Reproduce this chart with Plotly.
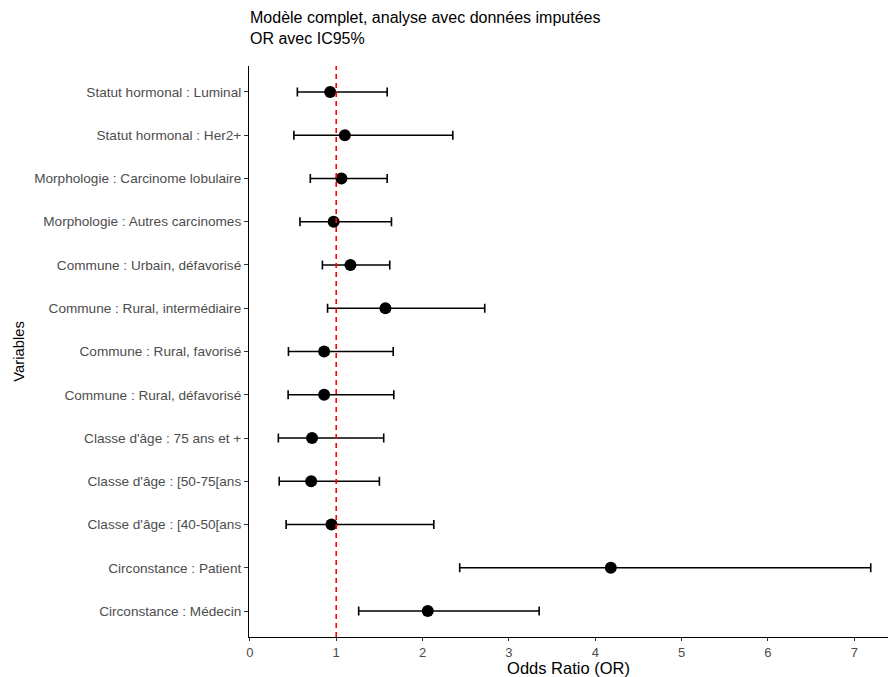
import plotly.graph_objects as go

variables = [
    "Statut hormonal : Luminal",
    "Statut hormonal : Her2+",
    "Morphologie : Carcinome lobulaire",
    "Morphologie : Autres carcinomes",
    "Commune : Urbain, défavorisé",
    "Commune : Rural, intermédiaire",
    "Commune : Rural, favorisé",
    "Commune : Rural, défavorisé",
    "Classe d'âge : 75 ans et +",
    "Classe d'âge : [50-75[ans",
    "Classe d'âge : [40-50[ans",
    "Circonstance : Patient",
    "Circonstance : Médecin",
]
odds_ratio = [0.93, 1.10, 1.06, 0.97, 1.165, 1.57, 0.86, 0.86, 0.72, 0.71, 0.945, 4.18, 2.06]
ci_lower = [0.55, 0.51, 0.70, 0.58, 0.84, 0.90, 0.447, 0.443, 0.33, 0.34, 0.42, 2.43, 1.26]
ci_upper = [1.59, 2.35, 1.59, 1.64, 1.62, 2.72, 1.66, 1.667, 1.55, 1.50, 2.13, 7.19, 3.35]
x_ticks = [0, 1, 2, 3, 4, 5, 6, 7]
ref_line = 1

err_plus = [u - o for u, o in zip(ci_upper, odds_ratio)]
err_minus = [o - l for o, l in zip(odds_ratio, ci_lower)]

fig = go.Figure()
fig.add_trace(go.Scatter(
    x=odds_ratio, y=variables, mode="markers",
    marker=dict(color="black", size=12),
    error_x=dict(type="data", symmetric=False, array=err_plus, arrayminus=err_minus,
                 color="black", thickness=1.6, width=4.5),
    showlegend=False,
))

fig.add_shape(type="line", xref="x", yref="paper", x0=ref_line, x1=ref_line, y0=0, y1=1,
              line=dict(color="#FF0000", width=1.6, dash="5px,4px"), layer="above")

fig.update_layout(
    width=888, height=677,
    margin=dict(l=249, r=0, t=66, b=40, autoexpand=False),
    paper_bgcolor="white", plot_bgcolor="white",
    font=dict(family="Liberation Sans, Arial, sans-serif", color="black"),
    title=dict(text="Modèle complet, analyse avec données imputées<br>OR avec IC95%",
               x=250 / 888, xanchor="left", y=1 - 23 / 677, yanchor="top",
               font=dict(size=16, color="black")),
)
fig.update_xaxes(
    range=[-0.01, 7.39], tickvals=x_ticks, showgrid=False, zeroline=False,
    showline=True, linecolor="black", linewidth=1.1,
    ticks="outside", ticklen=3, tickcolor="#333333", tickwidth=1,
    tickfont=dict(size=13, color="#4D4D4D"),
    title=dict(text="Odds Ratio (OR)", font=dict(size=16.5, color="black"), standoff=0),
)
fig.update_yaxes(
    type="category", categoryorder="array", categoryarray=variables,
    range=[len(variables) - 0.4, -0.6], showgrid=False, zeroline=False,
    showline=True, linecolor="black", linewidth=1.1,
    ticks="outside", ticklen=4, tickcolor="#333333", tickwidth=1,
    tickfont=dict(size=13.6, color="#4D4D4D"),
    title=dict(text="Variables", font=dict(size=14.8, color="black"), standoff=6),
)

fig.write_html("out.html", config={"displayModeBar": False},
               post_script="document.body.style.margin='0';document.body.style.overflow='hidden';")
